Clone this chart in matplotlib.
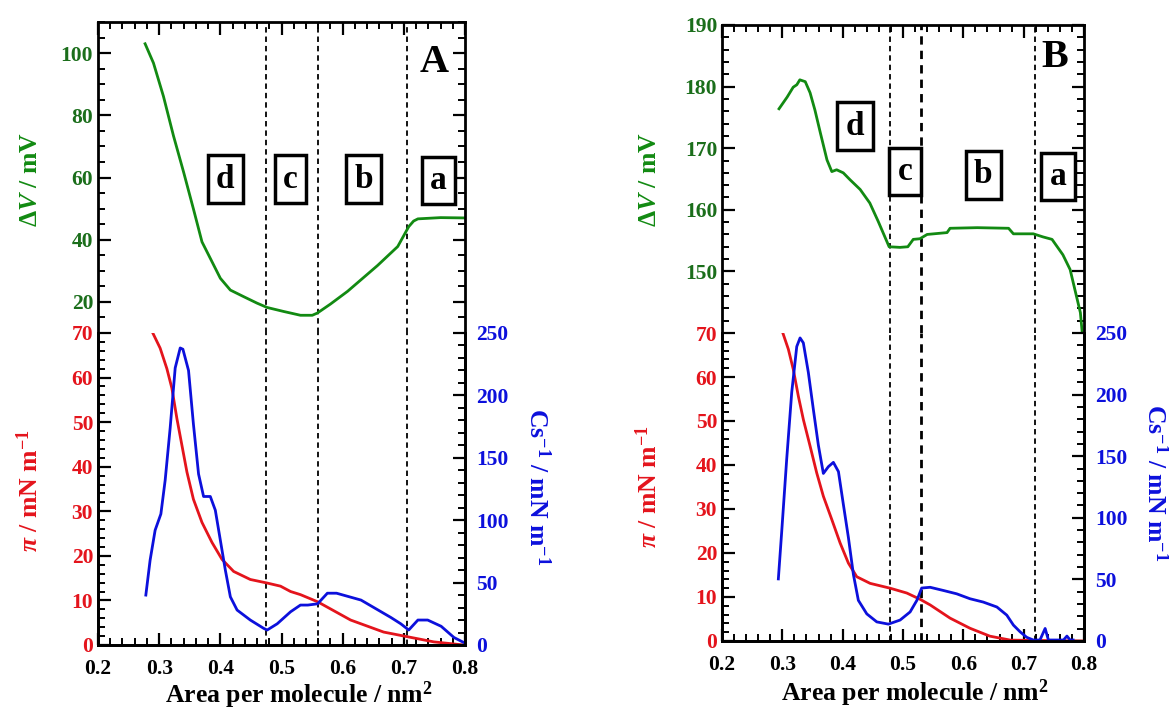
import numpy as np
import matplotlib
matplotlib.use("Agg")
import matplotlib.pyplot as plt
from matplotlib.ticker import MultipleLocator, FormatStrFormatter

plt.rcParams['font.family'] = ['Liberation Serif', 'DejaVu Serif']
plt.rcParams['font.weight'] = 'bold'
plt.rcParams['axes.labelweight'] = 'bold'
plt.rcParams['mathtext.fontset'] = 'custom'
plt.rcParams['mathtext.rm'] = 'Liberation Serif:bold'
plt.rcParams['mathtext.it'] = 'Liberation Serif:italic:bold'
plt.rcParams['mathtext.bf'] = 'Liberation Serif:bold'

GREEN = '#128a12'
GREEN_TXT = '#1b6e1b'
RED = '#e4141c'
BLUE = '#0c10dc'

# ---- panel A data ----
a_dv_x = [0.277, 0.2907, 0.307, 0.3234, 0.340, 0.356, 0.370, 0.3836, 0.400, 0.4164, 0.438,
          0.460, 0.4766, 0.504, 0.531, 0.5503, 0.5585, 0.580, 0.608, 0.657, 0.690, 0.708,
          0.716, 0.723, 0.760, 0.800]
a_dv_y = [103.0, 96.8, 86.1, 73.4, 61.7, 49.9, 39.3, 34.0, 27.6, 23.8, 21.7,
          19.6, 18.2, 16.9, 15.7, 15.7, 16.4, 19.3, 23.4, 31.7, 37.8, 44.2,
          46.0, 46.7, 47.1, 47.0]

a_pi_x = [0.2896, 0.3016, 0.3126, 0.3208, 0.329, 0.3372, 0.3454, 0.356, 0.370, 0.3864, 0.4028,
          0.4218, 0.449, 0.4766, 0.4984, 0.5148, 0.531, 0.559, 0.613, 0.667, 0.708, 0.749, 0.798]
a_pi_y = [70.0, 66.6, 62.0, 57.6, 50.8, 44.8, 38.8, 32.7, 27.5, 23.0, 19.2,
          16.5, 14.7, 13.9, 13.2, 12.0, 11.3, 9.7, 5.6, 2.9, 1.8, 0.7, 0.0]

a_cs_x = [0.2782, 0.2852, 0.2934, 0.3028, 0.3098, 0.318, 0.3262, 0.3344, 0.3388, 0.348, 0.356,
          0.3644, 0.3726, 0.3836, 0.3918, 0.400, 0.4082, 0.4164, 0.4274, 0.449, 0.471, 0.4766,
          0.493, 0.5148, 0.531, 0.543, 0.559, 0.575, 0.590, 0.630, 0.651, 0.679, 0.695, 0.708,
          0.723, 0.739, 0.761, 0.782, 0.798]
a_cs_y = [40, 68, 92, 105, 132, 174, 222, 238, 237, 220, 177,
          137, 119, 119, 108, 84, 60, 38.6, 28, 20, 13.3, 12,
          17, 26.6, 32, 32, 33, 41.5, 41.5, 36, 30, 22, 17, 12,
          20, 20, 15, 6, 2]

a_lines = [0.475, 0.56, 0.705]
a_boxes = ['d', 'c', 'b', 'a']
a_box_x = [0.408, 0.515, 0.634, 0.757]
a_box_y = [59.5, 59.5, 59.5, 59.0]

# ---- panel B data ----
b_dv_x = [0.2945, 0.308, 0.318, 0.324, 0.329, 0.338, 0.346, 0.354, 0.363, 0.374, 0.382, 0.390,
          0.401, 0.412, 0.429, 0.445, 0.459, 0.477, 0.495, 0.508, 0.517, 0.528, 0.540, 0.573,
          0.578, 0.623, 0.675, 0.683, 0.716, 0.732, 0.747, 0.765, 0.777, 0.785, 0.794, 0.797]
b_dv_y = [176.4, 178.3, 179.9, 180.3, 181.1, 180.8, 179.0, 176.2, 172.5, 168.1, 166.2, 166.5,
          166.0, 164.9, 163.3, 161.1, 158.1, 154.0, 153.9, 154.0, 155.2, 155.3, 156.0, 156.3,
          157.0, 157.1, 157.0, 156.1, 156.1, 155.6, 155.2, 152.7, 150.3, 147.0, 143.3, 140.1]

b_pi_x = [0.3006, 0.310, 0.3182, 0.3266, 0.3349, 0.346, 0.357, 0.368, 0.382, 0.3957, 0.4095,
          0.4234, 0.4455, 0.4786, 0.5063, 0.528, 0.545, 0.578, 0.611, 0.644, 0.678, 0.800]
b_pi_y = [70.1, 66.3, 61.7, 55.6, 50.3, 44.3, 38.2, 32.9, 27.6, 22.3, 17.7,
          14.6, 13.1, 12.0, 10.9, 9.5, 8.2, 5.2, 2.9, 1.1, 0.2, 0.0]

b_cs_x = [0.2934, 0.299, 0.3073, 0.3156, 0.3239, 0.3294, 0.3348, 0.3431, 0.3514, 0.3597, 0.368,
          0.3763, 0.3846, 0.393, 0.4012, 0.4095, 0.4178, 0.426, 0.440, 0.4566, 0.4758, 0.4952,
          0.5118, 0.523, 0.531, 0.545, 0.567, 0.589, 0.611, 0.633, 0.6556, 0.672, 0.683, 0.694,
          0.705, 0.716, 0.727, 0.7356, 0.741, 0.766, 0.7717, 0.777, 0.782]
b_cs_y = [50.4, 89, 148, 202, 239, 246, 242, 218, 188, 159, 136,
          141.5, 145, 137.5, 110.7, 84, 54, 33, 22, 15.5, 13.7, 17,
          23.6, 33, 43, 43.6, 41, 38.3, 34.3, 31.6, 27.6, 21, 12.9, 7.5,
          3, 0.8, 0.8, 10.2, 0.8, 0.8, 4, 0.8, 0.8]

b_lines = [0.478, 0.53, 0.718]
b_line_w = [1.3, 2.0, 1.3]
b_boxes = ['d', 'c', 'b', 'a']
b_box_x = [0.4206, 0.5035, 0.633, 0.757]
b_box_y = [173.6, 166.2, 165.7, 165.4]


def style_ticks(ax):
    ax.tick_params(which='major', direction='in', length=9, width=1.6, labelsize=15.5)
    ax.tick_params(which='minor', direction='in', length=5, width=1.4)
    for s in ax.spines.values():
        s.set_linewidth(2.0)


def panel(rect_top, rect_bot, dv_x, dv_y, pi_x, pi_y, cs_x, cs_y,
          dv_lim, dv_ticks, dv_minor, lines, line_w, boxes, box_x, box_y,
          letter, letter_pos, lab_pos):
    ax_t = fig.add_axes(rect_top)
    ax_b = fig.add_axes(rect_bot)
    ax_c = ax_b.twinx()

    # upper: surface potential
    ax_t.plot(dv_x, dv_y, color=GREEN, lw=2.0)
    ax_t.set_xlim(0.2, 0.8)
    ax_t.set_ylim(*dv_lim)
    ax_t.set_yticks(dv_ticks)
    ax_t.yaxis.set_minor_locator(MultipleLocator(dv_minor))
    ax_t.xaxis.set_major_locator(MultipleLocator(0.1))
    ax_t.xaxis.set_minor_locator(MultipleLocator(0.02))
    ax_t.spines['bottom'].set_visible(False)
    style_ticks(ax_t)
    ax_t.tick_params(axis='x', which='both', bottom=False, top=True, labelbottom=False)
    ax_t.tick_params(axis='y', which='both', left=True, right=True, labelcolor=GREEN_TXT)
    ax_t.set_ylabel(r'Δ$\mathit{V}$ / mV', color=GREEN, fontsize=18.5, va='center')
    ax_t.yaxis.set_label_coords(*lab_pos[0])

    # lower: isotherm + compressibility modulus
    ax_b.plot(pi_x, pi_y, color=RED, lw=2.0)
    ax_c.plot(cs_x, cs_y, color=BLUE, lw=2.0)
    ax_b.set_xlim(0.2, 0.8)
    ax_b.set_ylim(0, 70)
    ax_c.set_ylim(0, 250)
    ax_b.yaxis.set_major_locator(MultipleLocator(10))
    ax_b.yaxis.set_minor_locator(MultipleLocator(2))
    ax_c.yaxis.set_major_locator(MultipleLocator(50))
    ax_c.yaxis.set_minor_locator(MultipleLocator(10))
    ax_b.xaxis.set_major_locator(MultipleLocator(0.1))
    ax_b.xaxis.set_minor_locator(MultipleLocator(0.02))
    ax_b.xaxis.set_major_formatter(FormatStrFormatter('%.1f'))
    for a in (ax_b, ax_c):
        a.spines['top'].set_visible(False)
        style_ticks(a)
    ax_b.tick_params(axis='x', which='both', top=False, pad=10)
    ax_b.tick_params(axis='y', which='both', right=False, labelcolor=RED)
    ax_c.tick_params(axis='y', which='both', labelcolor=BLUE, pad=8)
    ax_b.set_ylabel(r'$\mathit{\pi}$ / mN m$^{-1}$', color=RED, fontsize=18.5, va='center')
    ax_b.yaxis.set_label_coords(*lab_pos[1])
    ax_c.set_ylabel(r'Cs$^{-1}$ / mN m$^{-1}$', color=BLUE, fontsize=18.5,
                    rotation=-90, va='center')
    ax_c.yaxis.set_label_coords(*lab_pos[2])
    ax_b.set_xlabel(r'Area per molecule / nm$^{2}$', fontsize=18.5, va='center')
    ax_b.xaxis.set_label_coords(*lab_pos[3])

    for xv, lw in zip(lines, line_w):
        for a in (ax_t, ax_b):
            a.axvline(xv, color='black', lw=lw, dashes=(3, 2.2), zorder=1)

    for s, bx, by in zip(boxes, box_x, box_y):
        ax_t.text(bx, by, s, fontsize=24, ha='center', va='center', zorder=5,
                  bbox=dict(boxstyle='square,pad=0.25', fc='white', ec='black', lw=2.5))

    ax_t.text(letter_pos[0], letter_pos[1], letter, transform=ax_t.transAxes,
              fontsize=29, ha='center', va='center')


W, H = 1169, 713
fig = plt.figure(figsize=(W / 100, H / 100), dpi=100)

# panel A: x 98..465 px, top 22..333, bottom 333..645
panel([98 / W, 1 - 333 / H, 367 / W, 311 / H],
      [98 / W, 1 - 645 / H, 367 / W, 312 / H],
      a_dv_x, a_dv_y, a_pi_x, a_pi_y, a_cs_x, a_cs_y,
      (10, 110), [20, 40, 60, 80, 100], 5, a_lines, [1.3, 1.3, 1.3],
      a_boxes, a_box_x, a_box_y, 'A', (0.916, 0.869),
      [(-0.183, 0.494), (-0.185, 0.495), (1.196, 0.508), (0.548, -0.161)])

# panel B: x 722..1084 px, top 25..333, bottom 333..641
panel([722 / W, 1 - 333 / H, 362 / W, 308 / H],
      [722 / W, 1 - 641 / H, 362 / W, 308 / H],
      b_dv_x, b_dv_y, b_pi_x, b_pi_y, b_cs_x, b_cs_y,
      (140, 190), [150, 160, 170, 180, 190], 2, b_lines, b_line_w,
      b_boxes, b_box_x, b_box_y, 'B', (0.92, 0.896),
      [(-0.199, 0.498), (-0.204, 0.502), (1.196, 0.515), (0.533, -0.169)])

fig.savefig('out.png', dpi=100)
